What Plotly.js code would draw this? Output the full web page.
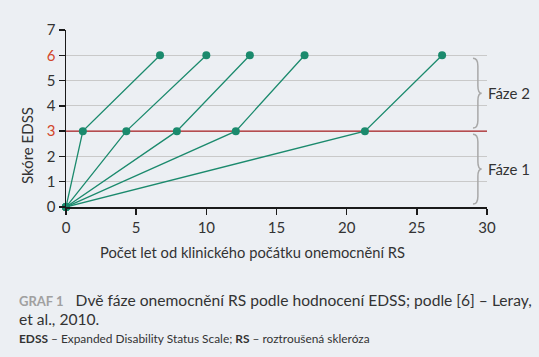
<!DOCTYPE html>
<html>
<head>
<meta charset="utf-8">
<script src="https://cdn.plot.ly/plotly-3.0.1.min.js"></script>
<style>
html,body{margin:0;padding:0;background:#eceff3;}
#chart{width:539px;height:357px;}
</style>
</head>
<body>
<div id="chart"></div>
<script>
// Data
var patients = ["P1", "P2", "P3", "P4", "P5"];
var yearsToEDSS3 = [1.2, 4.3, 7.9, 12.1, 21.3];
var yearsToEDSS6 = [6.7, 10.0, 13.1, 17.0, 26.8];
var edssLevels = [0, 3, 6];
var yTicks = [0, 1, 2, 3, 4, 5, 6, 7];
var xTicks = [0, 5, 10, 15, 20, 25, 30];
var highlightTicks = [3, 6];
var thresholdLevel = 3;
var phaseLabels = ["Fáze 1", "Fáze 2"];
var phaseFrom = [0, 3];
var phaseTo = [3, 6];

var GREEN = "#1b8a6d", RED = "#ac2327", REDTXT = "#d2462a", TXT = "#333333";
var FONT = "Lato, 'Open Sans', sans-serif";

// geometry (pixels) -> paper
var W = 539, H = 357, L = 66, R = 52, T = 30, B = 150;
var pw = W - L - R, ph = H - T - B;
function px(x) { return (x - L) / pw; }
function py(y) { return (H - B - y) / ph; }

var traces = [];
traces.push({
  x: [xTicks[0], xTicks[xTicks.length - 1]], y: [thresholdLevel, thresholdLevel],
  mode: "lines", line: {color: RED, width: 1.4}, hoverinfo: "skip", showlegend: false
});
for (var i = 0; i < patients.length; i++) {
  traces.push({
    x: [0, yearsToEDSS3[i], yearsToEDSS6[i]], y: edssLevels,
    mode: "lines+markers", name: patients[i],
    line: {color: GREEN, width: 1.3},
    marker: {color: GREEN, size: 8},
    cliponaxis: false, showlegend: false
  });
}

var ticktext = yTicks.map(function (v) {
  return highlightTicks.indexOf(v) >= 0 ? '<span style="color:' + REDTXT + '">' + v + '</span>' : String(v);
});

var shapes = [];
var annotations = [];
for (var k = 0; k < phaseLabels.length; k++) {
  var a = phaseFrom[k] + 0.12, b = phaseTo[k] - 0.12, m = (a + b) / 2;
  var x0 = 29.0, x1 = 29.35, xt = 29.62, r = 0.3;
  var path = "M" + x0 + "," + b + " Q" + x1 + "," + b + " " + x1 + "," + (b - r) +
    " L" + x1 + "," + (m + r) + " Q" + x1 + "," + m + " " + xt + "," + m +
    " Q" + x1 + "," + m + " " + x1 + "," + (m - r) +
    " L" + x1 + "," + (a + r) + " Q" + x1 + "," + a + " " + x0 + "," + a;
  shapes.push({type: "path", xref: "x", yref: "y", path: path, line: {color: "#a8a8a8", width: 1.5}});
  annotations.push({xref: "paper", yref: "y", x: px(486), y: m, xanchor: "left", yanchor: "middle",
    text: phaseLabels[k], showarrow: false, font: {family: FONT, size: 15, color: TXT}});
}

annotations.push({xref: "paper", yref: "paper", x: px(252), y: py(252), xanchor: "center", yanchor: "middle",
  text: "Počet let od klinického počátku onemocnění RS", showarrow: false,
  font: {family: FONT, size: 14.7, color: TXT}});
annotations.push({xref: "paper", yref: "paper", x: px(27), y: py(118), xanchor: "center", yanchor: "middle",
  yshift: -28, textangle: -90,
  text: "Skóre EDSS", showarrow: false, font: {family: FONT, size: 15, color: TXT}});
annotations.push({xref: "paper", yref: "paper", x: px(17), y: py(300), xanchor: "left", yanchor: "middle",
  text: '<span style="color:#a0a0a0;font-size:13px"><b>GRAF 1</b></span>   Dvě fáze onemocnění RS podle hodnocení EDSS; podle [6] – Leray,',
  showarrow: false, font: {family: FONT, size: 15.6, color: TXT}});
annotations.push({xref: "paper", yref: "paper", x: px(17), y: py(319), xanchor: "left", yanchor: "middle",
  text: "et al., 2010.", showarrow: false, font: {family: FONT, size: 15.6, color: TXT}});
annotations.push({xref: "paper", yref: "paper", x: px(17), y: py(338), xanchor: "left", yanchor: "middle",
  text: "<b>EDSS</b> – Expanded Disability Status Scale; <b>RS</b> – roztroušená skleróza",
  showarrow: false, font: {family: FONT, size: 11.9, color: TXT}});

var layout = {
  width: W, height: H,
  margin: {l: L, r: R, t: T, b: B, pad: 0},
  paper_bgcolor: "#eceff3", plot_bgcolor: "#eceff3",
  showlegend: false,
  font: {family: FONT, color: TXT},
  xaxis: {
    range: [0, 30], tickvals: xTicks, showgrid: false, zeroline: false,
    showline: true, linecolor: "#1a1a1a", linewidth: 1.5,
    ticks: "outside", ticklen: 6, tickcolor: "#1a1a1a", tickwidth: 1.5,
    tickfont: {family: FONT, size: 15, color: TXT}, fixedrange: true
  },
  yaxis: {
    range: [0, 7], tickvals: yTicks, ticktext: ticktext, showgrid: true, gridcolor: "#c9c9c9", gridwidth: 1,
    zeroline: false, showline: true, linecolor: "#1a1a1a", linewidth: 1.5,
    ticks: "outside", ticklen: 6, tickcolor: "#1a1a1a", tickwidth: 1.5,
    tickfont: {family: FONT, size: 15, color: TXT}, fixedrange: true
  },
  shapes: shapes,
  annotations: annotations
};

Plotly.newPlot("chart", traces, layout, {displayModeBar: false, staticPlot: true});
</script>
</body>
</html>
